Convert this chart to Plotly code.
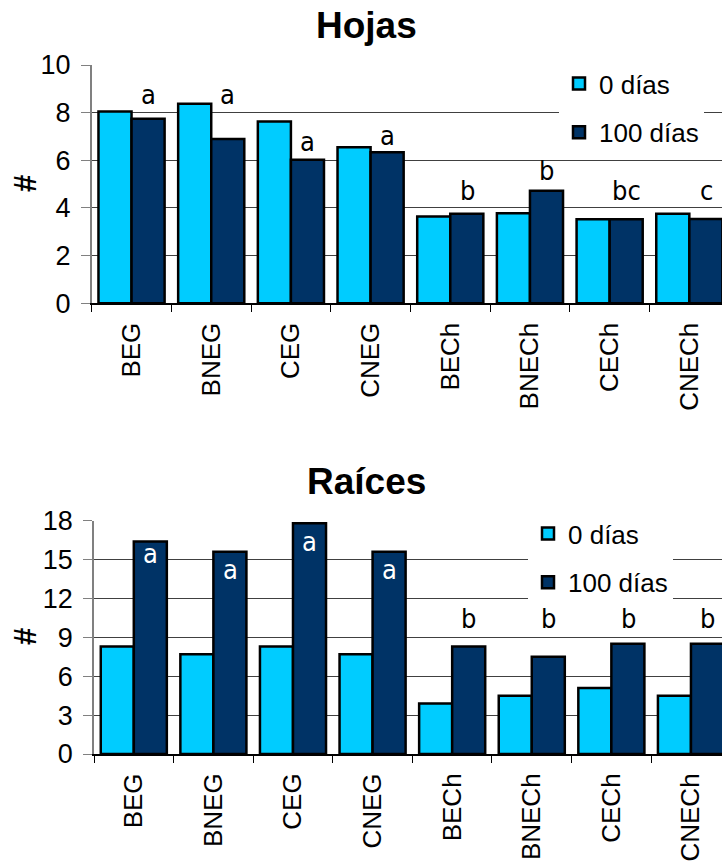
import plotly.graph_objects as go

# Sample codes shown on the category axis
categories = ["BEG", "BNEG", "CEG", "CNEG", "BECh", "BNECh", "CECh", "CNECh"]

# Number of leaves (Hojas)
hojas_0 = [8.05, 8.37, 7.63, 6.55, 3.64, 3.78, 3.53, 3.76]
hojas_100 = [7.74, 6.89, 6.02, 6.34, 3.76, 4.72, 3.53, 3.54]
hojas_letters = ["a", "a", "a", "a", "b", "b", "bc", "c"]
hojas_letter_y = [8.75, 8.75, 6.79, 7.03, 4.73, 5.57, 4.73, 4.73]

# Number of roots (Raíces)
raices_0 = [8.3, 7.7, 8.3, 7.7, 3.9, 4.5, 5.1, 4.5]
raices_100 = [16.4, 15.6, 17.8, 15.6, 8.3, 7.5, 8.5, 8.5]
raices_letters = ["a", "a", "a", "a", "b", "b", "b", "b"]
raices_letter_y = [15.5, 14.2, 16.4, 14.2, 10.47, 10.47, 10.47, 10.47]

series_names = ["0 días", "100 días"]
light = "#00CCFF"
dark = "#003366"

W, H = 722, 861
SANS = "Liberation Sans, Arial, sans-serif"
LET_FONT = "Liberation Sans Narrow, Arial Narrow, DejaVu Sans Condensed, sans-serif"

fig = go.Figure()

panels = [
    dict(xa="x", ya="y", v0=hojas_0, v1=hojas_100, legend="legend"),
    dict(xa="x2", ya="y2", v0=raices_0, v1=raices_100, legend="legend2"),
]
for p in panels:
    for name, vals, col in ((series_names[0], p["v0"], light), (series_names[1], p["v1"], dark)):
        fig.add_trace(go.Bar(
            x=categories, y=vals, name=name, xaxis=p["xa"], yaxis=p["ya"],
            marker=dict(color=col, line=dict(color="black", width=2.5)),
            legend=p["legend"], legendgroup=p["legend"] + name,
        ))

common_x = dict(
    type="category", showgrid=False, showline=True, linecolor="black", linewidth=2,
    ticks="outside", ticklen=7, tickcolor="black", tickwidth=1, tickson="boundaries",
    tickangle=-90, tickfont=dict(family=SANS, size=26, color="black"),
    ticklabelstandoff=7, fixedrange=True, automargin=False,
)
common_y = dict(
    showgrid=True, gridcolor="#404040", gridwidth=1, showline=True, linecolor="#808080",
    linewidth=1.5, ticks="outside", ticklen=9, tickcolor="#808080",
    tickfont=dict(family=SANS, size=27, color="black"), ticklabelstandoff=5,
    zeroline=False, fixedrange=True, automargin=False,
)

legend_common = dict(
    xanchor="left", yanchor="top", bgcolor="white",
    font=dict(family=SANS, size=26, color="black"),
    tracegroupgap=12, traceorder="grouped",
)

fig.update_layout(
    width=W, height=H, margin=dict(l=0, r=0, t=0, b=0, autoexpand=False),
    paper_bgcolor="white", plot_bgcolor="white",
    barmode="group", bargap=0.17, bargroupgap=0,
    xaxis=dict(common_x, domain=[91.7 / W, 1], range=[-0.5, 7.41], anchor="y"),
    yaxis=dict(common_y, domain=[1 - 303.3 / H, 1 - 65 / H], range=[0, 10],
               tickvals=[0, 2, 4, 6, 8, 10], anchor="x"),
    xaxis2=dict(common_x, domain=[94 / W, 1], range=[-0.5, 7.39], anchor="y2"),
    yaxis2=dict(common_y, domain=[1 - 754 / H, 1 - 520.7 / H], range=[0, 18],
                tickvals=[0, 3, 6, 9, 12, 15, 18], anchor="x2"),
    legend=dict(legend_common, x=559 / W, y=1 - 60 / H),
    legend2=dict(legend_common, x=528 / W, y=1 - 510 / H),
    showlegend=True,
)

annotations = []
# Panel titles
for text, ypx in (("Hojas", 26), ("Raíces", 482)):
    annotations.append(dict(text=f"<b>{text}</b>", x=366 / W, y=1 - ypx / H, xref="paper", yref="paper",
                            showarrow=False, xanchor="center", yanchor="middle",
                            font=dict(family=SANS, size=37, color="black")))
# Y axis titles
for ypx in (184, 637):
    annotations.append(dict(text="<b>#</b>", x=25 / W, y=1 - ypx / H, xref="paper", yref="paper",
                            showarrow=False, textangle=-90, xanchor="center", yanchor="middle",
                            font=dict(family=SANS, size=31, color="black")))
# Significance letters above / inside the 100-day bars
for i, (t, yv) in enumerate(zip(hojas_letters, hojas_letter_y)):
    annotations.append(dict(text=t, x=i + 0.21, y=yv, xref="x", yref="y", showarrow=False,
                            xanchor="center", yanchor="middle",
                            font=dict(family=LET_FONT, size=27, color="black")))
for i, (t, yv) in enumerate(zip(raices_letters, raices_letter_y)):
    annotations.append(dict(text=t, x=i + 0.21, y=yv, xref="x2", yref="y2", showarrow=False,
                            xanchor="center", yanchor="middle",
                            font=dict(family=LET_FONT, size=27, color="white" if t == "a" else "black")))
fig.update_layout(annotations=annotations)

fig.write_html("out.html")
